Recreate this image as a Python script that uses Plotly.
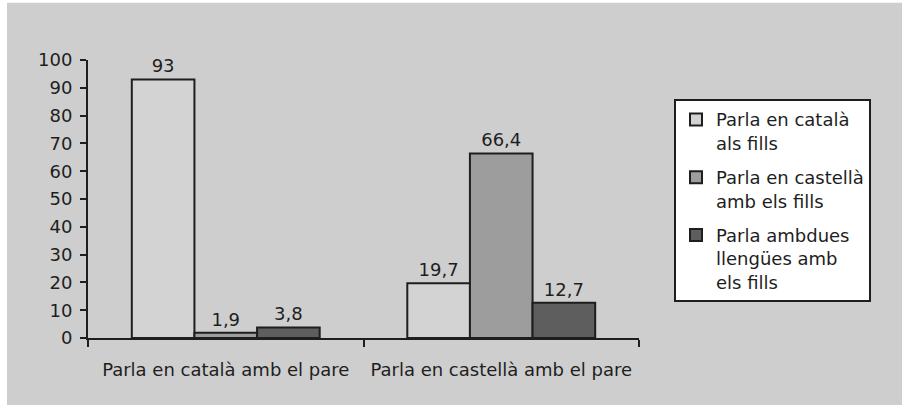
import plotly.graph_objects as go

# Categories (father's language) and series (language used with the children)
categories = ["Parla en català amb el pare", "Parla en castellà amb el pare"]
series_names = [
    "Parla en català<br>als fills",
    "Parla en castellà<br>amb els fills",
    "Parla ambdues<br>llengües amb<br>els fills",
]
series_values = [
    [93, 19.7],
    [1.9, 66.4],
    [3.8, 12.7],
]
series_colors = ["#d3d3d3", "#9d9d9d", "#5e5e5e"]
y_ticks = list(range(0, 101, 10))


def fmt(v):
    s = f"{v:g}"
    return s.replace(".", ",")


FONT = "DejaVu Sans"
INK = "#1e1e1e"
FS = 18

fig = go.Figure()
for i, (name, vals, col) in enumerate(zip(series_names, series_values, series_colors)):
    fig.add_trace(go.Bar(
        x=categories,
        y=vals,
        name=name,
        legendgroup=f"g{i}",
        marker=dict(color=col, line=dict(color=INK, width=2)),
        text=[fmt(v) for v in vals],
        textposition="outside",
        textfont=dict(family=FONT, size=FS, color=INK),
        cliponaxis=False,
    ))

fig.update_layout(
    width=902,
    height=405,
    margin=dict(l=88, r=263, t=60, b=67),
    paper_bgcolor="white",
    plot_bgcolor="white",
    barmode="group",
    bargap=0.318,
    bargroupgap=0,
    showlegend=True,
    font=dict(family=FONT, size=FS, color=INK),
    legend=dict(
        x=1.0635, y=0.859, xanchor="left", yanchor="top",
        bgcolor="white",
        bordercolor=INK, borderwidth=2,
        font=dict(family=FONT, size=FS, color=INK),
        tracegroupgap=8,
        itemwidth=30,
        valign="top",
    ),
    shapes=[dict(
        type="rect", xref="paper", yref="paper", layer="below",
        x0=-88 / 551 + 7 / 551, x1=(902 - 88) / 551,
        y0=-67 / 277, y1=(405 - 4 - 67) / 277,
        fillcolor="#cecece", line=dict(width=0),
    )],
    xaxis=dict(
        type="category",
        showline=True, linecolor=INK, linewidth=2,
        ticks="outside", tickson="boundaries", ticklen=7,
        tickwidth=2, tickcolor=INK,
        ticklabelstandoff=14,
        tickfont=dict(family=FONT, size=FS, color=INK),
        showgrid=False,
    ),
    yaxis=dict(
        range=[0, 100],
        tickvals=y_ticks,
        showline=True, linecolor=INK, linewidth=2,
        ticks="outside", ticklen=6, tickwidth=2, tickcolor=INK,
        ticklabelstandoff=4,
        tickfont=dict(family=FONT, size=FS, color=INK),
        showgrid=False, zeroline=False,
    ),
)

fig.write_html("out.html")
